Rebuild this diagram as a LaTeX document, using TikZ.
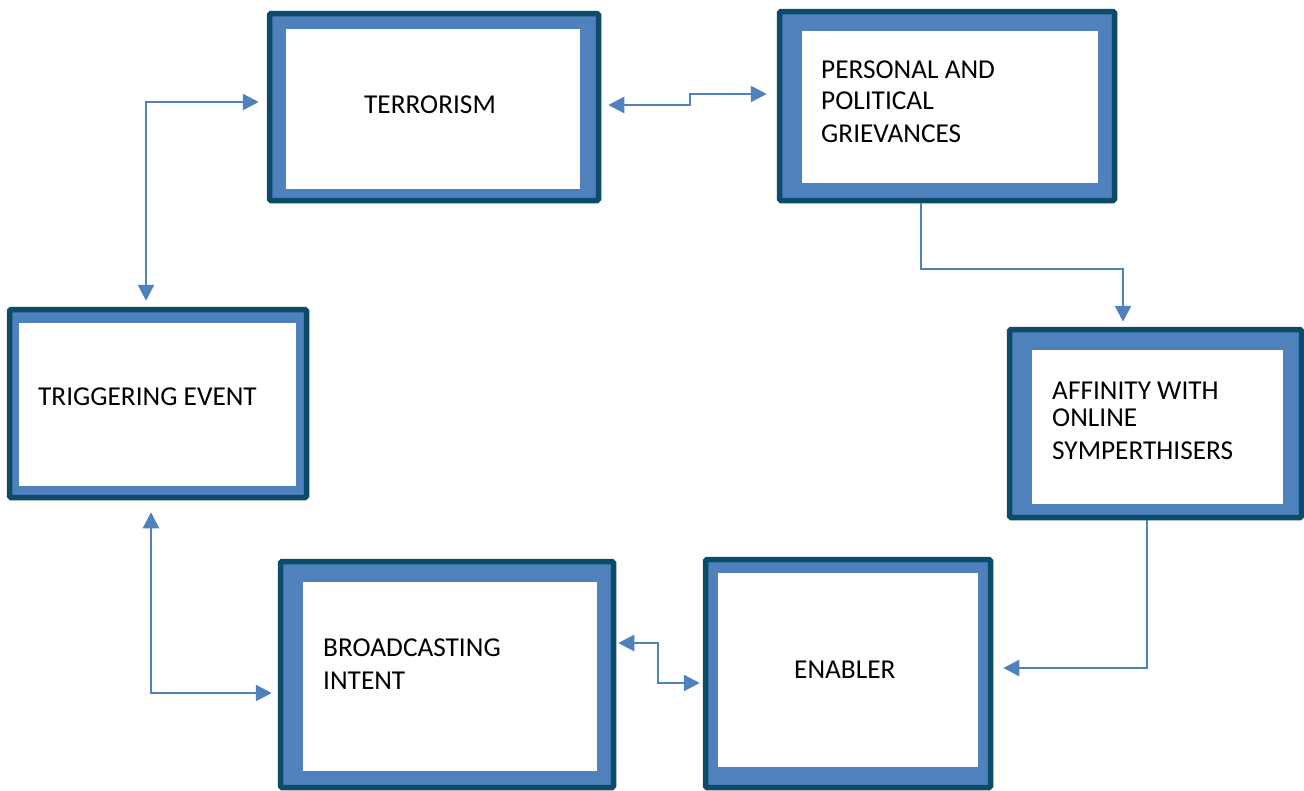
\documentclass[tikz,border=0pt]{standalone}
\usepackage{fontspec}
\setmainfont{Carlito}
\usetikzlibrary{calc,arrows.meta}
\definecolor{rim}{HTML}{0C4B69}
\definecolor{band}{HTML}{4F81BD}
\tikzset{
  outerbox/.style={draw=rim,fill=band,line width=5.5pt,rounded corners=1.5pt,inner sep=0pt,outer sep=2.75pt},
  innerbox/.style={fill=white,draw=none,inner sep=0pt,outer sep=0pt},
  label/.style={anchor=base west,inner sep=0pt,align=left,font=\fontsize{27.3}{32.5}\selectfont},
  arr/.style={draw=band,line width=2.4pt,arrows={-Triangle[length=16pt,width=16pt]}},
  arrboth/.style={draw=band,line width=2.4pt,arrows={Triangle[length=16pt,width=16pt]-Triangle[length=16pt,width=16pt]}}
}
\begin{document}
\begin{tikzpicture}[x=1pt,y=-1pt]
\useasboundingbox[fill=white] (0,0) rectangle (1304,790);
% boxes
\node[outerbox,minimum width=329pt,minimum height=187pt] (term) at (434,107) {};
\node[innerbox,minimum width=294pt,minimum height=160pt] (termIn) at (433,109) {};
\node[label] (termT) at (364,113) {TERRORISM};

\node[outerbox,minimum width=335pt,minimum height=189pt] (pers) at (947,106) {};
\node[innerbox,minimum width=296pt,minimum height=152pt] (persIn) at (950,107) {};
\node[label] (persT) at (821,142) {PERSONAL AND\\[-1pt]POLITICAL\\GRIEVANCES};

\node[outerbox,minimum width=292pt,minimum height=188pt] (aff) at (1155.5,423.5) {};
\node[innerbox,minimum width=251pt,minimum height=154pt] (affIn) at (1157.5,427) {};
\node[label] (affT) at (1052,459) {AFFINITY WITH\\[-5.5pt]ONLINE\\SYMPERTHISERS};

\node[outerbox,minimum width=297pt,minimum height=188pt] (trig) at (158,403.5) {};
\node[innerbox,minimum width=277pt,minimum height=163pt] (trigIn) at (157.5,404.5) {};
\node[label] (trigT) at (38,405) {TRIGGERING EVENT};

\node[outerbox,minimum width=333pt,minimum height=226pt] (broad) at (447,674.5) {};
\node[innerbox,minimum width=294pt,minimum height=189pt] (broadIn) at (450,676.5) {};
\node[label] (broadT) at (323,689) {BROADCASTING\\INTENT};

\node[outerbox,minimum width=285pt,minimum height=228pt] (enab) at (848,673.5) {};
\node[innerbox,minimum width=260pt,minimum height=194pt] (enabIn) at (848,670) {};
\node[label] (enabT) at (794,678) {ENABLER};

% connectors
\draw[arrboth] ($(term.east)+(7,-2)$) -- ++(82,0) |- ($(pers.west)+(-10,-12)$);
\draw[arr] ($(pers.south)+(-26,0)$) -- ++(0,66) -| ($(aff.north)+(-32.5,-5)$);
\draw[arr] ($(aff.south)+(-8.5,0)$) |- ($(enab.east)+(10,-5.5)$);
\draw[arrboth] ($(broad.east)+(2,-31.5)$) -- ++(40,0) |- ($(enab.west)+(-3,9.5)$);
\draw[arrboth] ($(trig.south)+(-7,12)$) |- ($(broad.west)+(-6,18.5)$);
\draw[arrboth] ($(trig.north)+(-12,-6)$) |- ($(term.west)+(-8,-5)$);
\end{tikzpicture}
\end{document}
